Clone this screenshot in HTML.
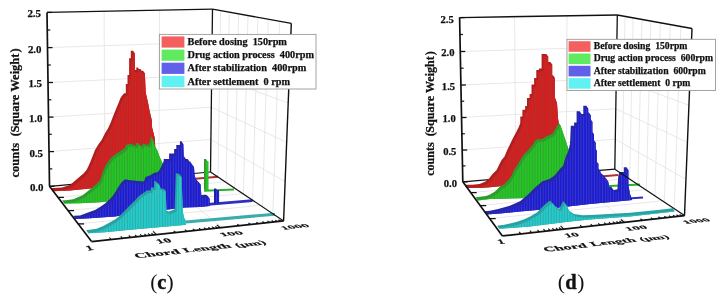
<!DOCTYPE html><html><head><meta charset="utf-8"><style>html,body{margin:0;padding:0;background:#fff;width:723px;height:301px;overflow:hidden}svg{display:block;will-change:transform;filter:blur(0.3px)}text{font-family:"Liberation Serif",serif;font-weight:bold;fill:#111;stroke:#111;stroke-width:0.25px}</style></head><body>
<svg width="723" height="301" viewBox="0 0 723 301">
<defs>
<pattern id="pr" width="2.7" height="10" patternUnits="userSpaceOnUse"><rect width="2.7" height="10" fill="#d81c1c"/><rect width="0.9" height="10" fill="#b03232"/></pattern>
<pattern id="pg" width="2.7" height="10" patternUnits="userSpaceOnUse"><rect width="2.7" height="10" fill="#20c820"/><rect width="0.9" height="10" fill="#3a9e3a"/></pattern>
<pattern id="pb" width="2.7" height="10" patternUnits="userSpaceOnUse"><rect width="2.7" height="10" fill="#1c1cd8"/><rect width="0.9" height="10" fill="#3a3ab8"/></pattern>
<pattern id="pc" width="2.7" height="10" patternUnits="userSpaceOnUse"><rect width="2.7" height="10" fill="#22cccc"/><rect width="0.9" height="10" fill="#34a8a8"/></pattern>
</defs>
<rect width="723" height="301" fill="#fff"/>
<line x1="49.0" y1="151.6" x2="210.9" y2="139.5" stroke="#e2e2e2" stroke-width="0.8" />
<line x1="210.9" y1="139.5" x2="285.1" y2="181.5" stroke="#e2e2e2" stroke-width="0.8" />
<line x1="48.5" y1="117.1" x2="211.3" y2="107.2" stroke="#e2e2e2" stroke-width="0.8" />
<line x1="211.3" y1="107.2" x2="286.7" y2="142.3" stroke="#e2e2e2" stroke-width="0.8" />
<line x1="48.0" y1="82.5" x2="211.7" y2="74.8" stroke="#e2e2e2" stroke-width="0.8" />
<line x1="211.7" y1="74.8" x2="288.2" y2="103.0" stroke="#e2e2e2" stroke-width="0.8" />
<line x1="47.5" y1="47.6" x2="212.1" y2="42.1" stroke="#e2e2e2" stroke-width="0.8" />
<line x1="212.1" y1="42.1" x2="289.7" y2="63.4" stroke="#e2e2e2" stroke-width="0.8" />
<line x1="104.1" y1="11.3" x2="105.0" y2="181.4" stroke="#e2e2e2" stroke-width="0.8" />
<line x1="105.0" y1="181.4" x2="157.8" y2="234.5" stroke="#e2e2e2" stroke-width="0.8" />
<line x1="159.5" y1="10.2" x2="159.0" y2="176.6" stroke="#e2e2e2" stroke-width="0.8" />
<line x1="159.0" y1="176.6" x2="222.2" y2="227.5" stroke="#e2e2e2" stroke-width="0.8" />
<line x1="220.6" y1="10.6" x2="218.0" y2="177.0" stroke="#e2e2e2" stroke-width="0.8" />
<line x1="229.3" y1="12.1" x2="226.1" y2="182.4" stroke="#e2e2e2" stroke-width="0.8" />
<line x1="238.6" y1="13.8" x2="234.7" y2="188.2" stroke="#e2e2e2" stroke-width="0.8" />
<line x1="248.0" y1="15.5" x2="243.4" y2="194.0" stroke="#e2e2e2" stroke-width="0.8" />
<line x1="257.9" y1="17.3" x2="252.6" y2="200.2" stroke="#e2e2e2" stroke-width="0.8" />
<line x1="268.4" y1="19.3" x2="262.4" y2="206.7" stroke="#e2e2e2" stroke-width="0.8" />
<line x1="279.6" y1="21.3" x2="272.8" y2="213.7" stroke="#e2e2e2" stroke-width="0.8" />
<line x1="57.9" y1="197.4" x2="225.1" y2="181.8" stroke="#e2e2e2" stroke-width="0.8" />
<line x1="68.0" y1="210.6" x2="242.7" y2="193.5" stroke="#e2e2e2" stroke-width="0.8" />
<line x1="78.1" y1="223.9" x2="260.2" y2="205.3" stroke="#e2e2e2" stroke-width="0.8" />
<line x1="49.5" y1="186.3" x2="210.5" y2="172.0" stroke="#111" stroke-width="1.2" />
<line x1="150.0" y1="182.7" x2="218.0" y2="176.8" stroke="#b03030" stroke-width="2" />
<line x1="204.0" y1="190.8" x2="234.0" y2="189.6" stroke="#2eae2e" stroke-width="2" />
<line x1="205.0" y1="204.6" x2="252.5" y2="200.6" stroke="#2e2ec0" stroke-width="2.8" />
<line x1="180.0" y1="222.6" x2="275.0" y2="214.2" stroke="#3aacac" stroke-width="3" />
<polygon points="204,159 206,159 207.5,161.5 207.5,191 205.5,191 204,189" fill="#2e9a2e"/>
<rect x="205.5" y="161.3" width="3" height="29.5" fill="url(#pg)"/>
<polygon points="214,188.5 216,188.5 217,190 217,204 215,204 214,202.5" fill="#2020a0"/>
<rect x="215.5" y="190" width="3.6" height="14" fill="url(#pb)"/>
<path d="M51.00,188.12 L54.10,187.99 L62.00,187.60 L69.90,185.00 L74.10,181.60 L79.90,176.60 L83.50,173.60 L86.50,170.00 L88.50,166.00 L90.50,161.50 L95.00,150.00 L98.00,145.00 L101.60,140.00 L104.90,133.50 L108.20,128.00 L110.70,122.50 L112.60,117.60 L116.00,109.00 L118.00,104.30 L120.60,97.70 L122.60,95.00 L124.10,93.20 L125.80,93.20 L125.80,84.00 L127.50,84.00 L127.50,74.90 L129.10,74.90 L129.10,58.30 L130.80,58.30 L130.80,50.80 L133.10,50.80 L133.10,70.00 L136.30,70.00 L136.30,67.40 L137.80,67.40 L137.80,69.10 L140.40,69.10 L140.40,70.70 L143.10,70.70 L143.90,89.90 L146.20,100.00 L147.70,108.00 L150.00,117.70 L150.30,125.00 L151.70,130.30 L153.00,135.60 L153.70,150.00 L153.70,179.91 L88.20,186.00 L68.20,188.00 L51.00,188.72Z M51.00,188.12 L54.10,187.99 L55.90,190.59 L52.80,190.72Z M54.10,187.99 L62.00,187.60 L63.80,190.20 L55.90,190.59Z M62.00,187.60 L69.90,185.00 L71.70,187.60 L63.80,190.20Z M69.90,185.00 L74.10,181.60 L75.90,184.20 L71.70,187.60Z M74.10,181.60 L79.90,176.60 L81.70,179.20 L75.90,184.20Z M79.90,176.60 L83.50,173.60 L85.30,176.20 L81.70,179.20Z M83.50,173.60 L86.50,170.00 L88.30,172.60 L85.30,176.20Z M86.50,170.00 L88.50,166.00 L90.30,168.60 L88.30,172.60Z M88.50,166.00 L90.50,161.50 L92.30,164.10 L90.30,168.60Z M90.50,161.50 L95.00,150.00 L96.80,152.60 L92.30,164.10Z M95.00,150.00 L98.00,145.00 L99.80,147.60 L96.80,152.60Z M98.00,145.00 L101.60,140.00 L103.40,142.60 L99.80,147.60Z M101.60,140.00 L104.90,133.50 L106.70,136.10 L103.40,142.60Z M104.90,133.50 L108.20,128.00 L110.00,130.60 L106.70,136.10Z M108.20,128.00 L110.70,122.50 L112.50,125.10 L110.00,130.60Z M110.70,122.50 L112.60,117.60 L114.40,120.20 L112.50,125.10Z M112.60,117.60 L116.00,109.00 L117.80,111.60 L114.40,120.20Z M116.00,109.00 L118.00,104.30 L119.80,106.90 L117.80,111.60Z M118.00,104.30 L120.60,97.70 L122.40,100.30 L119.80,106.90Z M120.60,97.70 L122.60,95.00 L124.40,97.60 L122.40,100.30Z M122.60,95.00 L124.10,93.20 L125.90,95.80 L124.40,97.60Z M124.10,93.20 L125.80,93.20 L127.60,95.80 L125.90,95.80Z M125.80,93.20 L125.80,84.00 L127.60,86.60 L127.60,95.80Z M125.80,84.00 L127.50,84.00 L129.30,86.60 L127.60,86.60Z M127.50,84.00 L127.50,74.90 L129.30,77.50 L129.30,86.60Z M127.50,74.90 L129.10,74.90 L130.90,77.50 L129.30,77.50Z M129.10,74.90 L129.10,58.30 L130.90,60.90 L130.90,77.50Z M129.10,58.30 L130.80,58.30 L132.60,60.90 L130.90,60.90Z M130.80,58.30 L130.80,50.80 L132.60,53.40 L132.60,60.90Z M130.80,50.80 L133.10,50.80 L134.90,53.40 L132.60,53.40Z M134.90,53.40 L134.90,72.60 L133.10,70.00 L133.10,50.80Z M133.10,70.00 L136.30,70.00 L138.10,72.60 L134.90,72.60Z M136.30,70.00 L136.30,67.40 L138.10,70.00 L138.10,72.60Z M136.30,67.40 L137.80,67.40 L139.60,70.00 L138.10,70.00Z M139.60,70.00 L139.60,71.70 L137.80,69.10 L137.80,67.40Z M137.80,69.10 L140.40,69.10 L142.20,71.70 L139.60,71.70Z M142.20,71.70 L142.20,73.30 L140.40,70.70 L140.40,69.10Z M140.40,70.70 L143.10,70.70 L144.90,73.30 L142.20,73.30Z M144.90,73.30 L145.70,92.50 L143.90,89.90 L143.10,70.70Z M145.70,92.50 L148.00,102.60 L146.20,100.00 L143.90,89.90Z M148.00,102.60 L149.50,110.60 L147.70,108.00 L146.20,100.00Z M149.50,110.60 L151.80,120.30 L150.00,117.70 L147.70,108.00Z M151.80,120.30 L152.10,127.60 L150.30,125.00 L150.00,117.70Z M152.10,127.60 L153.50,132.90 L151.70,130.30 L150.30,125.00Z M153.50,132.90 L154.80,138.20 L153.00,135.60 L151.70,130.30Z M154.80,138.20 L155.50,152.60 L153.70,150.00 L153.00,135.60Z M155.50,152.60 L155.50,182.51 L153.70,179.91 L153.70,150.00Z M155.50,182.51 L90.00,188.60 L88.20,186.00 L153.70,179.91Z M90.00,188.60 L70.00,190.60 L68.20,188.00 L88.20,186.00Z M70.00,190.60 L52.80,191.32 L51.00,188.72 L68.20,188.00Z M51.00,188.72 L51.00,188.12 L52.80,190.72 L52.80,191.32Z" fill="#b01f1f" fill-rule="nonzero"/>
<polygon points="52.8,190.7 55.9,190.6 63.8,190.2 71.7,187.6 75.9,184.2 81.7,179.2 85.3,176.2 88.3,172.6 90.3,168.6 92.3,164.1 96.8,152.6 99.8,147.6 103.4,142.6 106.7,136.1 110.0,130.6 112.5,125.1 114.4,120.2 117.8,111.6 119.8,106.9 122.4,100.3 124.4,97.6 125.9,95.8 127.6,95.8 127.6,86.6 129.3,86.6 129.3,77.5 130.9,77.5 130.9,60.9 132.6,60.9 132.6,53.4 134.9,53.4 134.9,72.6 138.1,72.6 138.1,70.0 139.6,70.0 139.6,71.7 142.2,71.7 142.2,73.3 144.9,73.3 145.7,92.5 148.0,102.6 149.5,110.6 151.8,120.3 152.1,127.6 153.5,132.9 154.8,138.2 155.5,152.6 155.5,182.5 90.0,188.6 70.0,190.6 52.8,191.3" fill="url(#pr)"/>
<path d="M62.50,200.36 L66.00,200.28 L73.30,199.20 L82.60,195.20 L89.20,189.90 L95.90,184.60 L99.80,180.50 L102.50,172.50 L105.00,166.60 L108.00,161.50 L111.60,157.30 L115.00,154.60 L118.20,152.60 L121.50,150.30 L124.80,148.00 L126.20,144.90 L129.80,143.60 L135.50,145.60 L136.50,142.90 L138.40,142.90 L140.40,146.90 L143.30,143.60 L147.50,144.90 L149.50,143.60 L150.80,137.00 L151.00,136.30 L151.70,139.60 L153.00,143.60 L155.70,148.20 L157.60,153.60 L159.60,158.20 L161.20,162.00 L163.20,175.00 L163.20,192.70 L98.20,199.70 L78.20,200.60 L62.50,200.96Z M62.50,200.36 L66.00,200.28 L67.80,202.88 L64.30,202.96Z M66.00,200.28 L73.30,199.20 L75.10,201.80 L67.80,202.88Z M73.30,199.20 L82.60,195.20 L84.40,197.80 L75.10,201.80Z M82.60,195.20 L89.20,189.90 L91.00,192.50 L84.40,197.80Z M89.20,189.90 L95.90,184.60 L97.70,187.20 L91.00,192.50Z M95.90,184.60 L99.80,180.50 L101.60,183.10 L97.70,187.20Z M99.80,180.50 L102.50,172.50 L104.30,175.10 L101.60,183.10Z M102.50,172.50 L105.00,166.60 L106.80,169.20 L104.30,175.10Z M105.00,166.60 L108.00,161.50 L109.80,164.10 L106.80,169.20Z M108.00,161.50 L111.60,157.30 L113.40,159.90 L109.80,164.10Z M111.60,157.30 L115.00,154.60 L116.80,157.20 L113.40,159.90Z M115.00,154.60 L118.20,152.60 L120.00,155.20 L116.80,157.20Z M118.20,152.60 L121.50,150.30 L123.30,152.90 L120.00,155.20Z M121.50,150.30 L124.80,148.00 L126.60,150.60 L123.30,152.90Z M124.80,148.00 L126.20,144.90 L128.00,147.50 L126.60,150.60Z M126.20,144.90 L129.80,143.60 L131.60,146.20 L128.00,147.50Z M129.80,143.60 L135.50,145.60 L137.30,148.20 L131.60,146.20Z M135.50,145.60 L136.50,142.90 L138.30,145.50 L137.30,148.20Z M136.50,142.90 L138.40,142.90 L140.20,145.50 L138.30,145.50Z M140.20,145.50 L142.20,149.50 L140.40,146.90 L138.40,142.90Z M140.40,146.90 L143.30,143.60 L145.10,146.20 L142.20,149.50Z M143.30,143.60 L147.50,144.90 L149.30,147.50 L145.10,146.20Z M147.50,144.90 L149.50,143.60 L151.30,146.20 L149.30,147.50Z M149.50,143.60 L150.80,137.00 L152.60,139.60 L151.30,146.20Z M150.80,137.00 L151.00,136.30 L152.80,138.90 L152.60,139.60Z M152.80,138.90 L153.50,142.20 L151.70,139.60 L151.00,136.30Z M153.50,142.20 L154.80,146.20 L153.00,143.60 L151.70,139.60Z M154.80,146.20 L157.50,150.80 L155.70,148.20 L153.00,143.60Z M157.50,150.80 L159.40,156.20 L157.60,153.60 L155.70,148.20Z M159.40,156.20 L161.40,160.80 L159.60,158.20 L157.60,153.60Z M161.40,160.80 L163.00,164.60 L161.20,162.00 L159.60,158.20Z M163.00,164.60 L165.00,177.60 L163.20,175.00 L161.20,162.00Z M165.00,177.60 L165.00,195.30 L163.20,192.70 L163.20,175.00Z M165.00,195.30 L100.00,202.30 L98.20,199.70 L163.20,192.70Z M100.00,202.30 L80.00,203.20 L78.20,200.60 L98.20,199.70Z M80.00,203.20 L64.30,203.56 L62.50,200.96 L78.20,200.60Z M62.50,200.96 L62.50,200.36 L64.30,202.96 L64.30,203.56Z" fill="#2c9c2c" fill-rule="nonzero"/>
<polygon points="64.3,203.0 67.8,202.9 75.1,201.8 84.4,197.8 91.0,192.5 97.7,187.2 101.6,183.1 104.3,175.1 106.8,169.2 109.8,164.1 113.4,159.9 116.8,157.2 120.0,155.2 123.3,152.9 126.6,150.6 128.0,147.5 131.6,146.2 137.3,148.2 138.3,145.5 140.2,145.5 142.2,149.5 145.1,146.2 149.3,147.5 151.3,146.2 152.6,139.6 152.8,138.9 153.5,142.2 154.8,146.2 157.5,150.8 159.4,156.2 161.4,160.8 163.0,164.6 165.0,177.6 165.0,195.3 100.0,202.3 80.0,203.2 64.3,203.6" fill="url(#pg)"/>
<path d="M73.50,215.80 L80.00,215.45 L90.00,211.70 L95.00,210.00 L100.00,207.00 L105.00,203.50 L110.00,199.00 L113.00,195.50 L116.00,191.00 L118.00,187.50 L121.00,183.00 L124.00,180.00 L126.00,179.30 L128.20,180.00 L133.20,180.40 L138.20,180.90 L144.00,181.40 L145.50,177.00 L149.90,175.40 L153.90,173.00 L157.80,172.00 L159.80,169.50 L162.30,164.50 L163.70,161.00 L163.70,159.10 L169.10,159.10 L169.10,153.60 L174.10,153.60 L174.10,149.10 L176.30,149.10 L176.30,145.00 L179.90,145.00 L179.90,141.30 L181.50,141.30 L182.00,156.60 L184.20,156.60 L184.20,159.10 L187.70,159.10 L187.70,161.60 L190.20,161.60 L190.20,163.50 L192.20,164.50 L192.70,172.00 L193.70,176.00 L196.60,180.00 L198.90,182.20 L199.60,194.10 L200.40,195.60 L203.50,194.80 L206.20,194.80 L207.80,196.00 L207.80,202.74 L207.80,203.34 L198.20,204.30 L183.20,205.00 L128.20,211.40 L113.20,214.00 L88.20,215.60 L73.50,216.40Z M73.50,215.80 L80.00,215.45 L81.80,218.05 L75.30,218.40Z M80.00,215.45 L90.00,211.70 L91.80,214.30 L81.80,218.05Z M90.00,211.70 L95.00,210.00 L96.80,212.60 L91.80,214.30Z M95.00,210.00 L100.00,207.00 L101.80,209.60 L96.80,212.60Z M100.00,207.00 L105.00,203.50 L106.80,206.10 L101.80,209.60Z M105.00,203.50 L110.00,199.00 L111.80,201.60 L106.80,206.10Z M110.00,199.00 L113.00,195.50 L114.80,198.10 L111.80,201.60Z M113.00,195.50 L116.00,191.00 L117.80,193.60 L114.80,198.10Z M116.00,191.00 L118.00,187.50 L119.80,190.10 L117.80,193.60Z M118.00,187.50 L121.00,183.00 L122.80,185.60 L119.80,190.10Z M121.00,183.00 L124.00,180.00 L125.80,182.60 L122.80,185.60Z M124.00,180.00 L126.00,179.30 L127.80,181.90 L125.80,182.60Z M126.00,179.30 L128.20,180.00 L130.00,182.60 L127.80,181.90Z M128.20,180.00 L133.20,180.40 L135.00,183.00 L130.00,182.60Z M133.20,180.40 L138.20,180.90 L140.00,183.50 L135.00,183.00Z M138.20,180.90 L144.00,181.40 L145.80,184.00 L140.00,183.50Z M144.00,181.40 L145.50,177.00 L147.30,179.60 L145.80,184.00Z M145.50,177.00 L149.90,175.40 L151.70,178.00 L147.30,179.60Z M149.90,175.40 L153.90,173.00 L155.70,175.60 L151.70,178.00Z M153.90,173.00 L157.80,172.00 L159.60,174.60 L155.70,175.60Z M157.80,172.00 L159.80,169.50 L161.60,172.10 L159.60,174.60Z M159.80,169.50 L162.30,164.50 L164.10,167.10 L161.60,172.10Z M162.30,164.50 L163.70,161.00 L165.50,163.60 L164.10,167.10Z M163.70,161.00 L163.70,159.10 L165.50,161.70 L165.50,163.60Z M163.70,159.10 L169.10,159.10 L170.90,161.70 L165.50,161.70Z M169.10,159.10 L169.10,153.60 L170.90,156.20 L170.90,161.70Z M169.10,153.60 L174.10,153.60 L175.90,156.20 L170.90,156.20Z M174.10,153.60 L174.10,149.10 L175.90,151.70 L175.90,156.20Z M174.10,149.10 L176.30,149.10 L178.10,151.70 L175.90,151.70Z M176.30,149.10 L176.30,145.00 L178.10,147.60 L178.10,151.70Z M176.30,145.00 L179.90,145.00 L181.70,147.60 L178.10,147.60Z M179.90,145.00 L179.90,141.30 L181.70,143.90 L181.70,147.60Z M179.90,141.30 L181.50,141.30 L183.30,143.90 L181.70,143.90Z M183.30,143.90 L183.80,159.20 L182.00,156.60 L181.50,141.30Z M182.00,156.60 L184.20,156.60 L186.00,159.20 L183.80,159.20Z M186.00,159.20 L186.00,161.70 L184.20,159.10 L184.20,156.60Z M184.20,159.10 L187.70,159.10 L189.50,161.70 L186.00,161.70Z M189.50,161.70 L189.50,164.20 L187.70,161.60 L187.70,159.10Z M187.70,161.60 L190.20,161.60 L192.00,164.20 L189.50,164.20Z M192.00,164.20 L192.00,166.10 L190.20,163.50 L190.20,161.60Z M190.20,163.50 L192.20,164.50 L194.00,167.10 L192.00,166.10Z M194.00,167.10 L194.50,174.60 L192.70,172.00 L192.20,164.50Z M194.50,174.60 L195.50,178.60 L193.70,176.00 L192.70,172.00Z M193.70,176.00 L196.60,180.00 L198.40,182.60 L195.50,178.60Z M196.60,180.00 L198.90,182.20 L200.70,184.80 L198.40,182.60Z M200.70,184.80 L201.40,196.70 L199.60,194.10 L198.90,182.20Z M201.40,196.70 L202.20,198.20 L200.40,195.60 L199.60,194.10Z M200.40,195.60 L203.50,194.80 L205.30,197.40 L202.20,198.20Z M203.50,194.80 L206.20,194.80 L208.00,197.40 L205.30,197.40Z M206.20,194.80 L207.80,196.00 L209.60,198.60 L208.00,197.40Z M209.60,198.60 L209.60,205.34 L207.80,202.74 L207.80,196.00Z M209.60,205.34 L209.60,205.94 L207.80,203.34 L207.80,202.74Z M209.60,205.94 L200.00,206.90 L198.20,204.30 L207.80,203.34Z M200.00,206.90 L185.00,207.60 L183.20,205.00 L198.20,204.30Z M185.00,207.60 L130.00,214.00 L128.20,211.40 L183.20,205.00Z M130.00,214.00 L115.00,216.60 L113.20,214.00 L128.20,211.40Z M115.00,216.60 L90.00,218.20 L88.20,215.60 L113.20,214.00Z M90.00,218.20 L75.30,219.00 L73.50,216.40 L88.20,215.60Z M73.50,216.40 L73.50,215.80 L75.30,218.40 L75.30,219.00Z" fill="#2626a8" fill-rule="nonzero"/>
<polygon points="75.3,218.4 81.8,218.0 91.8,214.3 96.8,212.6 101.8,209.6 106.8,206.1 111.8,201.6 114.8,198.1 117.8,193.6 119.8,190.1 122.8,185.6 125.8,182.6 127.8,181.9 130.0,182.6 135.0,183.0 140.0,183.5 145.8,184.0 147.3,179.6 151.7,178.0 155.7,175.6 159.6,174.6 161.6,172.1 164.1,167.1 165.5,163.6 165.5,161.7 170.9,161.7 170.9,156.2 175.9,156.2 175.9,151.7 178.1,151.7 178.1,147.6 181.7,147.6 181.7,143.9 183.3,143.9 183.8,159.2 186.0,159.2 186.0,161.7 189.5,161.7 189.5,164.2 192.0,164.2 192.0,166.1 194.0,167.1 194.5,174.6 195.5,178.6 198.4,182.6 200.7,184.8 201.4,196.7 202.2,198.2 205.3,197.4 208.0,197.4 209.6,198.6 209.6,205.3 209.6,205.9 200.0,206.9 185.0,207.6 130.0,214.0 115.0,216.6 90.0,218.2 75.3,219.0" fill="url(#pb)"/>
<path d="M86.50,230.08 L90.00,229.86 L96.60,228.80 L103.30,226.00 L110.00,222.30 L115.00,219.50 L120.00,215.50 L125.00,210.50 L128.00,207.30 L131.00,204.30 L135.00,200.50 L138.00,197.00 L141.00,194.50 L145.00,192.00 L146.70,190.60 L150.80,190.40 L150.80,187.50 L154.10,187.50 L154.10,181.20 L155.20,181.00 L158.20,183.30 L158.20,187.50 L160.60,187.50 L160.60,188.70 L164.00,188.70 L164.70,210.30 L168.80,211.50 L174.70,209.20 L175.80,173.10 L179.80,174.30 L181.00,209.20 L182.20,215.00 L184.20,219.00 L184.20,222.21 L182.20,222.40 L123.20,227.70 L103.20,229.60 L86.50,230.68Z M86.50,230.08 L90.00,229.86 L91.80,232.46 L88.30,232.68Z M90.00,229.86 L96.60,228.80 L98.40,231.40 L91.80,232.46Z M96.60,228.80 L103.30,226.00 L105.10,228.60 L98.40,231.40Z M103.30,226.00 L110.00,222.30 L111.80,224.90 L105.10,228.60Z M110.00,222.30 L115.00,219.50 L116.80,222.10 L111.80,224.90Z M115.00,219.50 L120.00,215.50 L121.80,218.10 L116.80,222.10Z M120.00,215.50 L125.00,210.50 L126.80,213.10 L121.80,218.10Z M125.00,210.50 L128.00,207.30 L129.80,209.90 L126.80,213.10Z M128.00,207.30 L131.00,204.30 L132.80,206.90 L129.80,209.90Z M131.00,204.30 L135.00,200.50 L136.80,203.10 L132.80,206.90Z M135.00,200.50 L138.00,197.00 L139.80,199.60 L136.80,203.10Z M138.00,197.00 L141.00,194.50 L142.80,197.10 L139.80,199.60Z M141.00,194.50 L145.00,192.00 L146.80,194.60 L142.80,197.10Z M145.00,192.00 L146.70,190.60 L148.50,193.20 L146.80,194.60Z M146.70,190.60 L150.80,190.40 L152.60,193.00 L148.50,193.20Z M150.80,190.40 L150.80,187.50 L152.60,190.10 L152.60,193.00Z M150.80,187.50 L154.10,187.50 L155.90,190.10 L152.60,190.10Z M154.10,187.50 L154.10,181.20 L155.90,183.80 L155.90,190.10Z M154.10,181.20 L155.20,181.00 L157.00,183.60 L155.90,183.80Z M155.20,181.00 L158.20,183.30 L160.00,185.90 L157.00,183.60Z M160.00,185.90 L160.00,190.10 L158.20,187.50 L158.20,183.30Z M158.20,187.50 L160.60,187.50 L162.40,190.10 L160.00,190.10Z M162.40,190.10 L162.40,191.30 L160.60,188.70 L160.60,187.50Z M160.60,188.70 L164.00,188.70 L165.80,191.30 L162.40,191.30Z M165.80,191.30 L166.50,212.90 L164.70,210.30 L164.00,188.70Z M164.70,210.30 L168.80,211.50 L170.60,214.10 L166.50,212.90Z M168.80,211.50 L174.70,209.20 L176.50,211.80 L170.60,214.10Z M174.70,209.20 L175.80,173.10 L177.60,175.70 L176.50,211.80Z M175.80,173.10 L179.80,174.30 L181.60,176.90 L177.60,175.70Z M181.60,176.90 L182.80,211.80 L181.00,209.20 L179.80,174.30Z M182.80,211.80 L184.00,217.60 L182.20,215.00 L181.00,209.20Z M184.00,217.60 L186.00,221.60 L184.20,219.00 L182.20,215.00Z M186.00,221.60 L186.00,224.81 L184.20,222.21 L184.20,219.00Z M186.00,224.81 L184.00,225.00 L182.20,222.40 L184.20,222.21Z M184.00,225.00 L125.00,230.30 L123.20,227.70 L182.20,222.40Z M125.00,230.30 L105.00,232.20 L103.20,229.60 L123.20,227.70Z M105.00,232.20 L88.30,233.28 L86.50,230.68 L103.20,229.60Z M86.50,230.68 L86.50,230.08 L88.30,232.68 L88.30,233.28Z" fill="#2aa2a2" fill-rule="nonzero"/>
<polygon points="88.3,232.7 91.8,232.5 98.4,231.4 105.1,228.6 111.8,224.9 116.8,222.1 121.8,218.1 126.8,213.1 129.8,209.9 132.8,206.9 136.8,203.1 139.8,199.6 142.8,197.1 146.8,194.6 148.5,193.2 152.6,193.0 152.6,190.1 155.9,190.1 155.9,183.8 157.0,183.6 160.0,185.9 160.0,190.1 162.4,190.1 162.4,191.3 165.8,191.3 166.5,212.9 170.6,214.1 176.5,211.8 177.6,175.7 181.6,176.9 182.8,211.8 184.0,217.6 186.0,221.6 186.0,224.8 184.0,225.0 125.0,230.3 105.0,232.2 88.3,233.3" fill="url(#pc)"/>
<line x1="47.0" y1="12.4" x2="212.5" y2="9.1" stroke="#111" stroke-width="1.4" />
<line x1="212.5" y1="9.1" x2="291.3" y2="23.4" stroke="#111" stroke-width="1.4" />
<line x1="47.0" y1="12.4" x2="49.5" y2="186.3" stroke="#111" stroke-width="1.7" />
<line x1="212.5" y1="9.1" x2="210.5" y2="172.0" stroke="#111" stroke-width="1.3" />
<line x1="291.3" y1="23.4" x2="283.6" y2="220.9" stroke="#111" stroke-width="1.4" />
<line x1="49.5" y1="186.3" x2="91.6" y2="241.6" stroke="#111" stroke-width="1.7" />
<line x1="91.6" y1="241.6" x2="283.6" y2="220.9" stroke="#111" stroke-width="1.7" />
<line x1="210.5" y1="172.0" x2="283.6" y2="220.9" stroke="#111" stroke-width="1.2" />
<line x1="111.1" y1="239.5" x2="109.4" y2="237.5" stroke="#111" stroke-width="1.1" />
<line x1="122.5" y1="238.3" x2="120.8" y2="236.3" stroke="#111" stroke-width="1.1" />
<line x1="130.6" y1="237.4" x2="128.8" y2="235.5" stroke="#111" stroke-width="1.1" />
<line x1="136.8" y1="236.7" x2="135.1" y2="234.8" stroke="#111" stroke-width="1.1" />
<line x1="141.9" y1="236.2" x2="140.2" y2="234.3" stroke="#111" stroke-width="1.1" />
<line x1="146.3" y1="235.7" x2="144.5" y2="233.8" stroke="#111" stroke-width="1.1" />
<line x1="150.0" y1="235.3" x2="148.2" y2="233.4" stroke="#111" stroke-width="1.1" />
<line x1="153.3" y1="234.9" x2="151.5" y2="233.1" stroke="#111" stroke-width="1.1" />
<line x1="156.3" y1="234.6" x2="153.1" y2="231.4" stroke="#111" stroke-width="1.1" />
<line x1="175.6" y1="232.5" x2="173.7" y2="230.8" stroke="#111" stroke-width="1.1" />
<line x1="186.8" y1="231.3" x2="184.9" y2="229.6" stroke="#111" stroke-width="1.1" />
<line x1="194.8" y1="230.5" x2="192.9" y2="228.8" stroke="#111" stroke-width="1.1" />
<line x1="201.0" y1="229.8" x2="199.1" y2="228.1" stroke="#111" stroke-width="1.1" />
<line x1="206.1" y1="229.3" x2="204.1" y2="227.6" stroke="#111" stroke-width="1.1" />
<line x1="210.4" y1="228.8" x2="208.4" y2="227.1" stroke="#111" stroke-width="1.1" />
<line x1="214.1" y1="228.4" x2="212.1" y2="226.7" stroke="#111" stroke-width="1.1" />
<line x1="217.4" y1="228.0" x2="215.4" y2="226.4" stroke="#111" stroke-width="1.1" />
<line x1="220.3" y1="227.7" x2="216.8" y2="224.9" stroke="#111" stroke-width="1.1" />
<line x1="239.4" y1="225.7" x2="237.3" y2="224.1" stroke="#111" stroke-width="1.1" />
<line x1="250.5" y1="224.5" x2="248.4" y2="222.9" stroke="#111" stroke-width="1.1" />
<line x1="258.4" y1="223.6" x2="256.3" y2="222.1" stroke="#111" stroke-width="1.1" />
<line x1="264.5" y1="223.0" x2="262.4" y2="221.5" stroke="#111" stroke-width="1.1" />
<line x1="269.6" y1="222.4" x2="267.4" y2="220.9" stroke="#111" stroke-width="1.1" />
<line x1="273.8" y1="222.0" x2="271.7" y2="220.5" stroke="#111" stroke-width="1.1" />
<line x1="277.5" y1="221.6" x2="275.3" y2="220.1" stroke="#111" stroke-width="1.1" />
<line x1="280.7" y1="221.2" x2="278.5" y2="219.8" stroke="#111" stroke-width="1.1" />
<line x1="49.5" y1="186.3" x2="54.5" y2="186.3" stroke="#111" stroke-width="1.3" />
<text x="43.5" y="191.2" font-size="10.9" text-anchor="end">0.0</text>
<line x1="49.3" y1="168.9" x2="52.3" y2="168.9" stroke="#111" stroke-width="1.2" />
<line x1="49.0" y1="151.6" x2="54.0" y2="151.6" stroke="#111" stroke-width="1.3" />
<text x="43.0" y="156.5" font-size="10.9" text-anchor="end">0.5</text>
<line x1="48.8" y1="134.3" x2="51.8" y2="134.3" stroke="#111" stroke-width="1.2" />
<line x1="48.5" y1="117.1" x2="53.5" y2="117.1" stroke="#111" stroke-width="1.3" />
<text x="42.5" y="122.0" font-size="10.9" text-anchor="end">1.0</text>
<line x1="48.3" y1="99.8" x2="51.3" y2="99.8" stroke="#111" stroke-width="1.2" />
<line x1="48.0" y1="82.5" x2="53.0" y2="82.5" stroke="#111" stroke-width="1.3" />
<text x="42.0" y="87.4" font-size="10.9" text-anchor="end">1.5</text>
<line x1="47.8" y1="65.0" x2="50.8" y2="65.0" stroke="#111" stroke-width="1.2" />
<line x1="47.5" y1="47.6" x2="52.5" y2="47.6" stroke="#111" stroke-width="1.3" />
<text x="41.5" y="52.5" font-size="10.9" text-anchor="end">2.0</text>
<line x1="47.3" y1="30.0" x2="50.3" y2="30.0" stroke="#111" stroke-width="1.2" />
<line x1="47.0" y1="12.4" x2="52.0" y2="12.4" stroke="#111" stroke-width="1.3" />
<text x="41.0" y="17.3" font-size="10.9" text-anchor="end">2.5</text>
<line x1="57.9" y1="197.4" x2="63.9" y2="197.4" stroke="#111" stroke-width="1.3" />
<line x1="68.0" y1="210.6" x2="74.0" y2="210.6" stroke="#111" stroke-width="1.3" />
<line x1="78.1" y1="223.9" x2="84.1" y2="223.9" stroke="#111" stroke-width="1.3" />
<text transform="translate(18.9,177.5) rotate(-90)" font-size="12.5">counts<tspan dx="6.5">(</tspan><tspan dx="-0.5">Square Weight</tspan><tspan dx="1">)</tspan></text>
<rect x="159.4" y="34.4" width="156.6" height="54.6" fill="#fff" stroke="#9a9a9a" stroke-width="0.9"/>
<rect x="161.6" y="36.4" width="22.8" height="11.2" fill="#f46060"/>
<text x="187.6" y="45.1" font-size="10.27" xml:space="preserve">Before dosing  150rpm</text>
<rect x="161.6" y="49.6" width="22.8" height="11.2" fill="#60ea60"/>
<text x="187.6" y="58.3" font-size="10.27" xml:space="preserve">Drug action process  400rpm</text>
<rect x="161.6" y="62.7" width="22.8" height="11.2" fill="#6060ea"/>
<text x="187.6" y="71.4" font-size="10.27" xml:space="preserve">After stabilization  400rpm</text>
<rect x="161.6" y="75.9" width="22.8" height="11.2" fill="#60f2f2"/>
<text x="187.6" y="84.6" font-size="10.27" xml:space="preserve">After settlement  0 rpm</text>
<text transform="matrix(1.250,-0.135,0.423,0.582,87.5,250.5)" font-size="11">1</text>
<text transform="matrix(1.300,-0.140,0.503,0.516,158.3,243.4)" font-size="11">10</text>
<text transform="matrix(1.330,-0.144,0.555,0.458,222.3,236.6)" font-size="11">100</text>
<text transform="matrix(1.230,-0.133,0.593,0.409,283.5,229.8)" font-size="11">1000</text>
<text transform="matrix(1.460,-0.158,0.522,0.606,136.5,258.3)" font-size="11">Chord</text>
<text transform="matrix(1.390,-0.150,0.575,0.556,185.6,252.6)" font-size="11">Length</text>
<text transform="matrix(1.310,-0.141,0.618,0.508,237.5,247.3)" font-size="11">(μm)</text>
<line x1="462.2" y1="150.0" x2="615.3" y2="139.3" stroke="#e2e2e2" stroke-width="0.8" />
<line x1="615.3" y1="139.3" x2="686.0" y2="179.4" stroke="#e2e2e2" stroke-width="0.8" />
<line x1="461.5" y1="117.5" x2="615.8" y2="108.8" stroke="#e2e2e2" stroke-width="0.8" />
<line x1="615.8" y1="108.8" x2="687.4" y2="142.3" stroke="#e2e2e2" stroke-width="0.8" />
<line x1="460.9" y1="85.0" x2="616.3" y2="78.3" stroke="#e2e2e2" stroke-width="0.8" />
<line x1="616.3" y1="78.3" x2="688.9" y2="105.3" stroke="#e2e2e2" stroke-width="0.8" />
<line x1="460.3" y1="51.5" x2="616.8" y2="46.8" stroke="#e2e2e2" stroke-width="0.8" />
<line x1="616.8" y1="46.8" x2="690.5" y2="67.1" stroke="#e2e2e2" stroke-width="0.8" />
<line x1="514.6" y1="16.7" x2="515.8" y2="177.4" stroke="#e2e2e2" stroke-width="0.8" />
<line x1="515.8" y1="177.4" x2="566.0" y2="228.8" stroke="#e2e2e2" stroke-width="0.8" />
<line x1="567.0" y1="15.8" x2="566.3" y2="173.2" stroke="#e2e2e2" stroke-width="0.8" />
<line x1="566.3" y1="173.2" x2="626.4" y2="222.1" stroke="#e2e2e2" stroke-width="0.8" />
<line x1="625.0" y1="16.4" x2="622.0" y2="174.0" stroke="#e2e2e2" stroke-width="0.8" />
<line x1="633.2" y1="17.9" x2="629.6" y2="179.1" stroke="#e2e2e2" stroke-width="0.8" />
<line x1="642.0" y1="19.5" x2="637.9" y2="184.6" stroke="#e2e2e2" stroke-width="0.8" />
<line x1="650.9" y1="21.1" x2="646.2" y2="190.1" stroke="#e2e2e2" stroke-width="0.8" />
<line x1="660.3" y1="22.8" x2="654.9" y2="195.9" stroke="#e2e2e2" stroke-width="0.8" />
<line x1="670.3" y1="24.6" x2="664.3" y2="202.1" stroke="#e2e2e2" stroke-width="0.8" />
<line x1="680.9" y1="26.5" x2="674.2" y2="208.7" stroke="#e2e2e2" stroke-width="0.8" />
<line x1="470.7" y1="192.6" x2="628.7" y2="178.5" stroke="#e2e2e2" stroke-width="0.8" />
<line x1="480.2" y1="205.6" x2="645.5" y2="189.6" stroke="#e2e2e2" stroke-width="0.8" />
<line x1="489.7" y1="218.6" x2="662.2" y2="200.8" stroke="#e2e2e2" stroke-width="0.8" />
<line x1="462.8" y1="181.8" x2="614.8" y2="169.2" stroke="#111" stroke-width="1.2" />
<line x1="560.0" y1="180.0" x2="618.0" y2="175.0" stroke="#b03030" stroke-width="2" />
<line x1="600.0" y1="186.5" x2="640.0" y2="184.5" stroke="#2eae2e" stroke-width="2" />
<line x1="620.0" y1="199.0" x2="643.0" y2="197.5" stroke="#2e2ec0" stroke-width="2.2" />
<path d="M465.00,184.80 L466.50,184.80 L472.30,184.80 L479.60,183.90 L485.50,181.40 L489.10,178.60 L492.10,174.40 L494.30,172.20 L496.60,170.00 L499.00,165.00 L501.60,160.00 L504.50,156.50 L507.00,150.50 L510.50,143.30 L513.00,138.00 L515.60,133.30 L519.00,126.60 L520.30,123.00 L520.30,116.50 L522.40,116.50 L522.40,109.80 L525.10,109.80 L525.10,105.90 L527.00,105.90 L527.00,97.90 L529.60,97.90 L529.60,93.90 L531.50,93.90 L531.50,84.60 L534.10,84.60 L534.10,77.90 L536.30,77.90 L536.30,70.00 L538.90,70.00 L538.90,68.60 L541.60,68.60 L541.60,54.00 L546.40,54.00 L546.40,62.00 L550.40,62.00 L550.40,75.30 L553.10,75.30 L553.10,95.00 L555.20,100.50 L556.30,116.50 L557.50,123.30 L558.20,135.00 L558.20,177.55 L498.20,183.60 L488.20,184.60 L478.20,185.40 L465.00,185.40Z M465.00,184.80 L466.50,184.80 L468.30,187.40 L466.80,187.40Z M466.50,184.80 L472.30,184.80 L474.10,187.40 L468.30,187.40Z M472.30,184.80 L479.60,183.90 L481.40,186.50 L474.10,187.40Z M479.60,183.90 L485.50,181.40 L487.30,184.00 L481.40,186.50Z M485.50,181.40 L489.10,178.60 L490.90,181.20 L487.30,184.00Z M489.10,178.60 L492.10,174.40 L493.90,177.00 L490.90,181.20Z M492.10,174.40 L494.30,172.20 L496.10,174.80 L493.90,177.00Z M494.30,172.20 L496.60,170.00 L498.40,172.60 L496.10,174.80Z M496.60,170.00 L499.00,165.00 L500.80,167.60 L498.40,172.60Z M499.00,165.00 L501.60,160.00 L503.40,162.60 L500.80,167.60Z M501.60,160.00 L504.50,156.50 L506.30,159.10 L503.40,162.60Z M504.50,156.50 L507.00,150.50 L508.80,153.10 L506.30,159.10Z M507.00,150.50 L510.50,143.30 L512.30,145.90 L508.80,153.10Z M510.50,143.30 L513.00,138.00 L514.80,140.60 L512.30,145.90Z M513.00,138.00 L515.60,133.30 L517.40,135.90 L514.80,140.60Z M515.60,133.30 L519.00,126.60 L520.80,129.20 L517.40,135.90Z M519.00,126.60 L520.30,123.00 L522.10,125.60 L520.80,129.20Z M520.30,123.00 L520.30,116.50 L522.10,119.10 L522.10,125.60Z M520.30,116.50 L522.40,116.50 L524.20,119.10 L522.10,119.10Z M522.40,116.50 L522.40,109.80 L524.20,112.40 L524.20,119.10Z M522.40,109.80 L525.10,109.80 L526.90,112.40 L524.20,112.40Z M525.10,109.80 L525.10,105.90 L526.90,108.50 L526.90,112.40Z M525.10,105.90 L527.00,105.90 L528.80,108.50 L526.90,108.50Z M527.00,105.90 L527.00,97.90 L528.80,100.50 L528.80,108.50Z M527.00,97.90 L529.60,97.90 L531.40,100.50 L528.80,100.50Z M529.60,97.90 L529.60,93.90 L531.40,96.50 L531.40,100.50Z M529.60,93.90 L531.50,93.90 L533.30,96.50 L531.40,96.50Z M531.50,93.90 L531.50,84.60 L533.30,87.20 L533.30,96.50Z M531.50,84.60 L534.10,84.60 L535.90,87.20 L533.30,87.20Z M534.10,84.60 L534.10,77.90 L535.90,80.50 L535.90,87.20Z M534.10,77.90 L536.30,77.90 L538.10,80.50 L535.90,80.50Z M536.30,77.90 L536.30,70.00 L538.10,72.60 L538.10,80.50Z M536.30,70.00 L538.90,70.00 L540.70,72.60 L538.10,72.60Z M538.90,70.00 L538.90,68.60 L540.70,71.20 L540.70,72.60Z M538.90,68.60 L541.60,68.60 L543.40,71.20 L540.70,71.20Z M541.60,68.60 L541.60,54.00 L543.40,56.60 L543.40,71.20Z M541.60,54.00 L546.40,54.00 L548.20,56.60 L543.40,56.60Z M548.20,56.60 L548.20,64.60 L546.40,62.00 L546.40,54.00Z M546.40,62.00 L550.40,62.00 L552.20,64.60 L548.20,64.60Z M552.20,64.60 L552.20,77.90 L550.40,75.30 L550.40,62.00Z M550.40,75.30 L553.10,75.30 L554.90,77.90 L552.20,77.90Z M554.90,77.90 L554.90,97.60 L553.10,95.00 L553.10,75.30Z M554.90,97.60 L557.00,103.10 L555.20,100.50 L553.10,95.00Z M557.00,103.10 L558.10,119.10 L556.30,116.50 L555.20,100.50Z M558.10,119.10 L559.30,125.90 L557.50,123.30 L556.30,116.50Z M559.30,125.90 L560.00,137.60 L558.20,135.00 L557.50,123.30Z M560.00,137.60 L560.00,180.15 L558.20,177.55 L558.20,135.00Z M560.00,180.15 L500.00,186.20 L498.20,183.60 L558.20,177.55Z M500.00,186.20 L490.00,187.20 L488.20,184.60 L498.20,183.60Z M490.00,187.20 L480.00,188.00 L478.20,185.40 L488.20,184.60Z M480.00,188.00 L466.80,188.00 L465.00,185.40 L478.20,185.40Z M465.00,185.40 L465.00,184.80 L466.80,187.40 L466.80,188.00Z" fill="#b01f1f" fill-rule="nonzero"/>
<polygon points="466.8,187.4 468.3,187.4 474.1,187.4 481.4,186.5 487.3,184.0 490.9,181.2 493.9,177.0 496.1,174.8 498.4,172.6 500.8,167.6 503.4,162.6 506.3,159.1 508.8,153.1 512.3,145.9 514.8,140.6 517.4,135.9 520.8,129.2 522.1,125.6 522.1,119.1 524.2,119.1 524.2,112.4 526.9,112.4 526.9,108.5 528.8,108.5 528.8,100.5 531.4,100.5 531.4,96.5 533.3,96.5 533.3,87.2 535.9,87.2 535.9,80.5 538.1,80.5 538.1,72.6 540.7,72.6 540.7,71.2 543.4,71.2 543.4,56.6 548.2,56.6 548.2,64.6 552.2,64.6 552.2,77.9 554.9,77.9 554.9,97.6 557.0,103.1 558.1,119.1 559.3,125.9 560.0,137.6 560.0,180.1 500.0,186.2 490.0,187.2 480.0,188.0 466.8,188.0" fill="url(#pr)"/>
<path d="M476.00,197.37 L480.00,196.85 L486.00,196.08 L490.00,194.50 L495.00,191.60 L500.00,186.60 L504.10,184.30 L508.30,180.00 L511.60,175.50 L514.00,170.00 L518.30,163.20 L523.30,154.90 L528.30,149.90 L533.20,144.10 L535.70,140.00 L538.20,139.10 L540.50,139.50 L543.20,138.30 L546.00,136.50 L549.00,135.30 L552.00,134.00 L555.00,129.50 L556.90,125.90 L558.90,122.90 L559.10,123.90 L561.10,129.80 L563.10,135.80 L565.10,141.80 L567.10,147.80 L567.70,160.00 L567.70,191.02 L538.20,194.60 L518.20,195.60 L488.20,196.40 L476.00,197.97Z M476.00,197.37 L480.00,196.85 L481.80,199.45 L477.80,199.97Z M480.00,196.85 L486.00,196.08 L487.80,198.68 L481.80,199.45Z M486.00,196.08 L490.00,194.50 L491.80,197.10 L487.80,198.68Z M490.00,194.50 L495.00,191.60 L496.80,194.20 L491.80,197.10Z M495.00,191.60 L500.00,186.60 L501.80,189.20 L496.80,194.20Z M500.00,186.60 L504.10,184.30 L505.90,186.90 L501.80,189.20Z M504.10,184.30 L508.30,180.00 L510.10,182.60 L505.90,186.90Z M508.30,180.00 L511.60,175.50 L513.40,178.10 L510.10,182.60Z M511.60,175.50 L514.00,170.00 L515.80,172.60 L513.40,178.10Z M514.00,170.00 L518.30,163.20 L520.10,165.80 L515.80,172.60Z M518.30,163.20 L523.30,154.90 L525.10,157.50 L520.10,165.80Z M523.30,154.90 L528.30,149.90 L530.10,152.50 L525.10,157.50Z M528.30,149.90 L533.20,144.10 L535.00,146.70 L530.10,152.50Z M533.20,144.10 L535.70,140.00 L537.50,142.60 L535.00,146.70Z M535.70,140.00 L538.20,139.10 L540.00,141.70 L537.50,142.60Z M538.20,139.10 L540.50,139.50 L542.30,142.10 L540.00,141.70Z M540.50,139.50 L543.20,138.30 L545.00,140.90 L542.30,142.10Z M543.20,138.30 L546.00,136.50 L547.80,139.10 L545.00,140.90Z M546.00,136.50 L549.00,135.30 L550.80,137.90 L547.80,139.10Z M549.00,135.30 L552.00,134.00 L553.80,136.60 L550.80,137.90Z M552.00,134.00 L555.00,129.50 L556.80,132.10 L553.80,136.60Z M555.00,129.50 L556.90,125.90 L558.70,128.50 L556.80,132.10Z M556.90,125.90 L558.90,122.90 L560.70,125.50 L558.70,128.50Z M560.70,125.50 L560.90,126.50 L559.10,123.90 L558.90,122.90Z M560.90,126.50 L562.90,132.40 L561.10,129.80 L559.10,123.90Z M562.90,132.40 L564.90,138.40 L563.10,135.80 L561.10,129.80Z M564.90,138.40 L566.90,144.40 L565.10,141.80 L563.10,135.80Z M566.90,144.40 L568.90,150.40 L567.10,147.80 L565.10,141.80Z M568.90,150.40 L569.50,162.60 L567.70,160.00 L567.10,147.80Z M569.50,162.60 L569.50,193.62 L567.70,191.02 L567.70,160.00Z M569.50,193.62 L540.00,197.20 L538.20,194.60 L567.70,191.02Z M540.00,197.20 L520.00,198.20 L518.20,195.60 L538.20,194.60Z M520.00,198.20 L490.00,199.00 L488.20,196.40 L518.20,195.60Z M490.00,199.00 L477.80,200.57 L476.00,197.97 L488.20,196.40Z M476.00,197.97 L476.00,197.37 L477.80,199.97 L477.80,200.57Z" fill="#2c9c2c" fill-rule="nonzero"/>
<polygon points="477.8,200.0 481.8,199.5 487.8,198.7 491.8,197.1 496.8,194.2 501.8,189.2 505.9,186.9 510.1,182.6 513.4,178.1 515.8,172.6 520.1,165.8 525.1,157.5 530.1,152.5 535.0,146.7 537.5,142.6 540.0,141.7 542.3,142.1 545.0,140.9 547.8,139.1 550.8,137.9 553.8,136.6 556.8,132.1 558.7,128.5 560.7,125.5 560.9,126.5 562.9,132.4 564.9,138.4 566.9,144.4 568.9,150.4 569.5,162.6 569.5,193.6 540.0,197.2 520.0,198.2 490.0,199.0 477.8,200.6" fill="url(#pg)"/>
<path d="M484.60,211.18 L490.00,210.83 L498.20,209.00 L509.80,205.70 L520.00,201.30 L527.50,195.00 L535.00,187.50 L542.50,181.30 L550.00,178.80 L555.00,175.00 L560.00,168.80 L563.00,166.00 L566.00,156.00 L568.00,152.00 L570.00,144.00 L570.80,125.70 L574.10,125.70 L574.10,122.40 L576.60,122.40 L576.60,111.30 L579.80,111.30 L579.80,114.00 L583.30,114.00 L583.30,105.80 L586.40,105.80 L586.40,112.50 L588.90,112.50 L588.90,119.10 L590.60,119.10 L590.60,131.60 L592.20,131.60 L592.20,139.90 L593.90,139.90 L593.90,147.90 L595.00,147.90 L595.00,161.20 L596.60,161.20 L596.60,167.80 L598.20,168.00 L599.50,172.60 L601.80,173.70 L604.20,176.00 L606.50,179.20 L607.40,184.70 L608.30,187.40 L611.10,186.50 L612.90,190.20 L617.40,189.20 L618.30,175.50 L619.30,171.90 L623.80,171.90 L623.80,167.30 L626.60,167.30 L626.60,182.90 L628.40,192.00 L630.20,196.70 L630.20,197.30 L628.20,197.60 L588.20,201.30 L538.20,207.10 L518.20,208.90 L498.20,210.90 L484.60,211.78Z M484.60,211.18 L490.00,210.83 L491.80,213.43 L486.40,213.78Z M490.00,210.83 L498.20,209.00 L500.00,211.60 L491.80,213.43Z M498.20,209.00 L509.80,205.70 L511.60,208.30 L500.00,211.60Z M509.80,205.70 L520.00,201.30 L521.80,203.90 L511.60,208.30Z M520.00,201.30 L527.50,195.00 L529.30,197.60 L521.80,203.90Z M527.50,195.00 L535.00,187.50 L536.80,190.10 L529.30,197.60Z M535.00,187.50 L542.50,181.30 L544.30,183.90 L536.80,190.10Z M542.50,181.30 L550.00,178.80 L551.80,181.40 L544.30,183.90Z M550.00,178.80 L555.00,175.00 L556.80,177.60 L551.80,181.40Z M555.00,175.00 L560.00,168.80 L561.80,171.40 L556.80,177.60Z M560.00,168.80 L563.00,166.00 L564.80,168.60 L561.80,171.40Z M563.00,166.00 L566.00,156.00 L567.80,158.60 L564.80,168.60Z M566.00,156.00 L568.00,152.00 L569.80,154.60 L567.80,158.60Z M568.00,152.00 L570.00,144.00 L571.80,146.60 L569.80,154.60Z M570.00,144.00 L570.80,125.70 L572.60,128.30 L571.80,146.60Z M570.80,125.70 L574.10,125.70 L575.90,128.30 L572.60,128.30Z M574.10,125.70 L574.10,122.40 L575.90,125.00 L575.90,128.30Z M574.10,122.40 L576.60,122.40 L578.40,125.00 L575.90,125.00Z M576.60,122.40 L576.60,111.30 L578.40,113.90 L578.40,125.00Z M576.60,111.30 L579.80,111.30 L581.60,113.90 L578.40,113.90Z M581.60,113.90 L581.60,116.60 L579.80,114.00 L579.80,111.30Z M579.80,114.00 L583.30,114.00 L585.10,116.60 L581.60,116.60Z M583.30,114.00 L583.30,105.80 L585.10,108.40 L585.10,116.60Z M583.30,105.80 L586.40,105.80 L588.20,108.40 L585.10,108.40Z M588.20,108.40 L588.20,115.10 L586.40,112.50 L586.40,105.80Z M586.40,112.50 L588.90,112.50 L590.70,115.10 L588.20,115.10Z M590.70,115.10 L590.70,121.70 L588.90,119.10 L588.90,112.50Z M588.90,119.10 L590.60,119.10 L592.40,121.70 L590.70,121.70Z M592.40,121.70 L592.40,134.20 L590.60,131.60 L590.60,119.10Z M590.60,131.60 L592.20,131.60 L594.00,134.20 L592.40,134.20Z M594.00,134.20 L594.00,142.50 L592.20,139.90 L592.20,131.60Z M592.20,139.90 L593.90,139.90 L595.70,142.50 L594.00,142.50Z M595.70,142.50 L595.70,150.50 L593.90,147.90 L593.90,139.90Z M593.90,147.90 L595.00,147.90 L596.80,150.50 L595.70,150.50Z M596.80,150.50 L596.80,163.80 L595.00,161.20 L595.00,147.90Z M595.00,161.20 L596.60,161.20 L598.40,163.80 L596.80,163.80Z M598.40,163.80 L598.40,170.40 L596.60,167.80 L596.60,161.20Z M596.60,167.80 L598.20,168.00 L600.00,170.60 L598.40,170.40Z M600.00,170.60 L601.30,175.20 L599.50,172.60 L598.20,168.00Z M599.50,172.60 L601.80,173.70 L603.60,176.30 L601.30,175.20Z M601.80,173.70 L604.20,176.00 L606.00,178.60 L603.60,176.30Z M604.20,176.00 L606.50,179.20 L608.30,181.80 L606.00,178.60Z M608.30,181.80 L609.20,187.30 L607.40,184.70 L606.50,179.20Z M609.20,187.30 L610.10,190.00 L608.30,187.40 L607.40,184.70Z M608.30,187.40 L611.10,186.50 L612.90,189.10 L610.10,190.00Z M612.90,189.10 L614.70,192.80 L612.90,190.20 L611.10,186.50Z M612.90,190.20 L617.40,189.20 L619.20,191.80 L614.70,192.80Z M617.40,189.20 L618.30,175.50 L620.10,178.10 L619.20,191.80Z M618.30,175.50 L619.30,171.90 L621.10,174.50 L620.10,178.10Z M619.30,171.90 L623.80,171.90 L625.60,174.50 L621.10,174.50Z M623.80,171.90 L623.80,167.30 L625.60,169.90 L625.60,174.50Z M623.80,167.30 L626.60,167.30 L628.40,169.90 L625.60,169.90Z M628.40,169.90 L628.40,185.50 L626.60,182.90 L626.60,167.30Z M628.40,185.50 L630.20,194.60 L628.40,192.00 L626.60,182.90Z M630.20,194.60 L632.00,199.30 L630.20,196.70 L628.40,192.00Z M632.00,199.30 L632.00,199.90 L630.20,197.30 L630.20,196.70Z M632.00,199.90 L630.00,200.20 L628.20,197.60 L630.20,197.30Z M630.00,200.20 L590.00,203.90 L588.20,201.30 L628.20,197.60Z M590.00,203.90 L540.00,209.70 L538.20,207.10 L588.20,201.30Z M540.00,209.70 L520.00,211.50 L518.20,208.90 L538.20,207.10Z M520.00,211.50 L500.00,213.50 L498.20,210.90 L518.20,208.90Z M500.00,213.50 L486.40,214.38 L484.60,211.78 L498.20,210.90Z M484.60,211.78 L484.60,211.18 L486.40,213.78 L486.40,214.38Z" fill="#2626a8" fill-rule="nonzero"/>
<polygon points="486.4,213.8 491.8,213.4 500.0,211.6 511.6,208.3 521.8,203.9 529.3,197.6 536.8,190.1 544.3,183.9 551.8,181.4 556.8,177.6 561.8,171.4 564.8,168.6 567.8,158.6 569.8,154.6 571.8,146.6 572.6,128.3 575.9,128.3 575.9,125.0 578.4,125.0 578.4,113.9 581.6,113.9 581.6,116.6 585.1,116.6 585.1,108.4 588.2,108.4 588.2,115.1 590.7,115.1 590.7,121.7 592.4,121.7 592.4,134.2 594.0,134.2 594.0,142.5 595.7,142.5 595.7,150.5 596.8,150.5 596.8,163.8 598.4,163.8 598.4,170.4 600.0,170.6 601.3,175.2 603.6,176.3 606.0,178.6 608.3,181.8 609.2,187.3 610.1,190.0 612.9,189.1 614.7,192.8 619.2,191.8 620.1,178.1 621.1,174.5 625.6,174.5 625.6,169.9 628.4,169.9 628.4,185.5 630.2,194.6 632.0,199.3 632.0,199.9 630.0,200.2 590.0,203.9 540.0,209.7 520.0,211.5 500.0,213.5 486.4,214.4" fill="url(#pb)"/>
<path d="M497.50,225.57 L503.00,225.00 L510.00,223.60 L517.00,221.80 L524.90,219.10 L531.00,216.00 L536.90,212.40 L540.50,208.80 L544.30,205.00 L547.50,202.30 L550.30,200.50 L550.70,201.50 L553.00,203.50 L555.20,206.20 L559.30,208.70 L561.00,205.00 L563.00,201.20 L564.20,202.00 L566.40,206.40 L568.70,210.50 L573.90,213.90 L582.90,215.20 L590.00,215.00 L600.00,214.50 L630.00,212.70 L660.00,209.76 L672.70,208.31 L672.70,208.91 L628.20,214.00 L588.20,217.00 L568.20,219.00 L528.20,223.90 L497.50,226.17Z M497.50,225.57 L503.00,225.00 L504.80,227.60 L499.30,228.17Z M503.00,225.00 L510.00,223.60 L511.80,226.20 L504.80,227.60Z M510.00,223.60 L517.00,221.80 L518.80,224.40 L511.80,226.20Z M517.00,221.80 L524.90,219.10 L526.70,221.70 L518.80,224.40Z M524.90,219.10 L531.00,216.00 L532.80,218.60 L526.70,221.70Z M531.00,216.00 L536.90,212.40 L538.70,215.00 L532.80,218.60Z M536.90,212.40 L540.50,208.80 L542.30,211.40 L538.70,215.00Z M540.50,208.80 L544.30,205.00 L546.10,207.60 L542.30,211.40Z M544.30,205.00 L547.50,202.30 L549.30,204.90 L546.10,207.60Z M547.50,202.30 L550.30,200.50 L552.10,203.10 L549.30,204.90Z M552.10,203.10 L552.50,204.10 L550.70,201.50 L550.30,200.50Z M550.70,201.50 L553.00,203.50 L554.80,206.10 L552.50,204.10Z M553.00,203.50 L555.20,206.20 L557.00,208.80 L554.80,206.10Z M555.20,206.20 L559.30,208.70 L561.10,211.30 L557.00,208.80Z M559.30,208.70 L561.00,205.00 L562.80,207.60 L561.10,211.30Z M561.00,205.00 L563.00,201.20 L564.80,203.80 L562.80,207.60Z M563.00,201.20 L564.20,202.00 L566.00,204.60 L564.80,203.80Z M566.00,204.60 L568.20,209.00 L566.40,206.40 L564.20,202.00Z M568.20,209.00 L570.50,213.10 L568.70,210.50 L566.40,206.40Z M568.70,210.50 L573.90,213.90 L575.70,216.50 L570.50,213.10Z M573.90,213.90 L582.90,215.20 L584.70,217.80 L575.70,216.50Z M582.90,215.20 L590.00,215.00 L591.80,217.60 L584.70,217.80Z M590.00,215.00 L600.00,214.50 L601.80,217.10 L591.80,217.60Z M600.00,214.50 L630.00,212.70 L631.80,215.30 L601.80,217.10Z M630.00,212.70 L660.00,209.76 L661.80,212.36 L631.80,215.30Z M660.00,209.76 L672.70,208.31 L674.50,210.91 L661.80,212.36Z M674.50,210.91 L674.50,211.51 L672.70,208.91 L672.70,208.31Z M674.50,211.51 L630.00,216.60 L628.20,214.00 L672.70,208.91Z M630.00,216.60 L590.00,219.60 L588.20,217.00 L628.20,214.00Z M590.00,219.60 L570.00,221.60 L568.20,219.00 L588.20,217.00Z M570.00,221.60 L530.00,226.50 L528.20,223.90 L568.20,219.00Z M530.00,226.50 L499.30,228.77 L497.50,226.17 L528.20,223.90Z M497.50,226.17 L497.50,225.57 L499.30,228.17 L499.30,228.77Z" fill="#2aa2a2" fill-rule="nonzero"/>
<polygon points="499.3,228.2 504.8,227.6 511.8,226.2 518.8,224.4 526.7,221.7 532.8,218.6 538.7,215.0 542.3,211.4 546.1,207.6 549.3,204.9 552.1,203.1 552.5,204.1 554.8,206.1 557.0,208.8 561.1,211.3 562.8,207.6 564.8,203.8 566.0,204.6 568.2,209.0 570.5,213.1 575.7,216.5 584.7,217.8 591.8,217.6 601.8,217.1 631.8,215.3 661.8,212.4 674.5,210.9 674.5,211.5 630.0,216.6 590.0,219.6 570.0,221.6 530.0,226.5 499.3,228.8" fill="url(#pc)"/>
<line x1="459.6" y1="17.6" x2="617.3" y2="15.0" stroke="#111" stroke-width="1.4" />
<line x1="617.3" y1="15.0" x2="692.0" y2="28.5" stroke="#111" stroke-width="1.4" />
<line x1="459.6" y1="17.6" x2="462.8" y2="181.8" stroke="#111" stroke-width="1.7" />
<line x1="617.3" y1="15.0" x2="614.8" y2="169.2" stroke="#111" stroke-width="1.3" />
<line x1="692.0" y1="28.5" x2="684.5" y2="215.6" stroke="#111" stroke-width="1.4" />
<line x1="462.8" y1="181.8" x2="502.4" y2="235.9" stroke="#111" stroke-width="1.7" />
<line x1="502.4" y1="235.9" x2="684.5" y2="215.6" stroke="#111" stroke-width="1.7" />
<line x1="614.8" y1="169.2" x2="684.5" y2="215.6" stroke="#111" stroke-width="1.2" />
<line x1="520.9" y1="233.8" x2="519.2" y2="231.8" stroke="#111" stroke-width="1.1" />
<line x1="531.6" y1="232.6" x2="530.0" y2="230.7" stroke="#111" stroke-width="1.1" />
<line x1="539.3" y1="231.8" x2="537.6" y2="229.8" stroke="#111" stroke-width="1.1" />
<line x1="545.2" y1="231.1" x2="543.5" y2="229.2" stroke="#111" stroke-width="1.1" />
<line x1="550.1" y1="230.6" x2="548.3" y2="228.7" stroke="#111" stroke-width="1.1" />
<line x1="554.2" y1="230.1" x2="552.4" y2="228.2" stroke="#111" stroke-width="1.1" />
<line x1="557.8" y1="229.7" x2="556.0" y2="227.8" stroke="#111" stroke-width="1.1" />
<line x1="560.9" y1="229.4" x2="559.1" y2="227.5" stroke="#111" stroke-width="1.1" />
<line x1="563.7" y1="229.1" x2="560.6" y2="225.8" stroke="#111" stroke-width="1.1" />
<line x1="581.9" y1="227.0" x2="580.1" y2="225.2" stroke="#111" stroke-width="1.1" />
<line x1="592.6" y1="225.8" x2="590.7" y2="224.1" stroke="#111" stroke-width="1.1" />
<line x1="600.2" y1="225.0" x2="598.2" y2="223.3" stroke="#111" stroke-width="1.1" />
<line x1="606.1" y1="224.3" x2="604.1" y2="222.6" stroke="#111" stroke-width="1.1" />
<line x1="610.9" y1="223.8" x2="608.9" y2="222.1" stroke="#111" stroke-width="1.1" />
<line x1="614.9" y1="223.4" x2="612.9" y2="221.7" stroke="#111" stroke-width="1.1" />
<line x1="618.4" y1="223.0" x2="616.4" y2="221.3" stroke="#111" stroke-width="1.1" />
<line x1="621.5" y1="222.6" x2="619.5" y2="221.0" stroke="#111" stroke-width="1.1" />
<line x1="624.3" y1="222.3" x2="620.8" y2="219.5" stroke="#111" stroke-width="1.1" />
<line x1="642.4" y1="220.3" x2="640.4" y2="218.7" stroke="#111" stroke-width="1.1" />
<line x1="653.0" y1="219.1" x2="650.9" y2="217.6" stroke="#111" stroke-width="1.1" />
<line x1="660.5" y1="218.3" x2="658.4" y2="216.8" stroke="#111" stroke-width="1.1" />
<line x1="666.4" y1="217.6" x2="664.3" y2="216.1" stroke="#111" stroke-width="1.1" />
<line x1="671.1" y1="217.1" x2="669.0" y2="215.6" stroke="#111" stroke-width="1.1" />
<line x1="675.2" y1="216.6" x2="673.0" y2="215.2" stroke="#111" stroke-width="1.1" />
<line x1="678.7" y1="216.3" x2="676.5" y2="214.8" stroke="#111" stroke-width="1.1" />
<line x1="681.7" y1="215.9" x2="679.6" y2="214.5" stroke="#111" stroke-width="1.1" />
<line x1="462.8" y1="181.8" x2="467.8" y2="181.8" stroke="#111" stroke-width="1.3" />
<text x="457.0" y="186.7" font-size="10.6" text-anchor="end">0.0</text>
<line x1="462.5" y1="165.9" x2="465.5" y2="165.9" stroke="#111" stroke-width="1.2" />
<line x1="462.2" y1="150.0" x2="467.2" y2="150.0" stroke="#111" stroke-width="1.3" />
<text x="456.4" y="154.9" font-size="10.6" text-anchor="end">0.5</text>
<line x1="461.9" y1="133.8" x2="464.9" y2="133.8" stroke="#111" stroke-width="1.2" />
<line x1="461.5" y1="117.5" x2="466.5" y2="117.5" stroke="#111" stroke-width="1.3" />
<text x="455.7" y="122.4" font-size="10.6" text-anchor="end">1.0</text>
<line x1="461.2" y1="101.2" x2="464.2" y2="101.2" stroke="#111" stroke-width="1.2" />
<line x1="460.9" y1="85.0" x2="465.9" y2="85.0" stroke="#111" stroke-width="1.3" />
<text x="455.1" y="89.9" font-size="10.6" text-anchor="end">1.5</text>
<line x1="460.6" y1="68.2" x2="463.6" y2="68.2" stroke="#111" stroke-width="1.2" />
<line x1="460.3" y1="51.5" x2="465.3" y2="51.5" stroke="#111" stroke-width="1.3" />
<text x="454.5" y="56.4" font-size="10.6" text-anchor="end">2.0</text>
<line x1="459.9" y1="34.5" x2="462.9" y2="34.5" stroke="#111" stroke-width="1.2" />
<line x1="459.6" y1="17.6" x2="464.6" y2="17.6" stroke="#111" stroke-width="1.3" />
<text x="453.8" y="22.5" font-size="10.6" text-anchor="end">2.5</text>
<line x1="470.7" y1="192.6" x2="476.7" y2="192.6" stroke="#111" stroke-width="1.3" />
<line x1="480.2" y1="205.6" x2="486.2" y2="205.6" stroke="#111" stroke-width="1.3" />
<line x1="489.7" y1="218.6" x2="495.7" y2="218.6" stroke="#111" stroke-width="1.3" />
<text transform="translate(434.3,175.8) rotate(-90)" font-size="12.1">counts<tspan dx="6">(</tspan><tspan dx="-0.5">Square Weight</tspan><tspan dx="1">)</tspan></text>
<rect x="567" y="39.3" width="148.5" height="51.2" fill="#fff" stroke="#9a9a9a" stroke-width="0.9"/>
<rect x="568.6" y="41.2" width="21.9" height="10.6" fill="#f46060"/>
<text x="593.7" y="49.1" font-size="9.7" xml:space="preserve">Before dosing  150rpm</text>
<rect x="568.6" y="53.5" width="21.9" height="10.6" fill="#60ea60"/>
<text x="593.7" y="61.4" font-size="9.7" xml:space="preserve">Drug action process  600rpm</text>
<rect x="568.6" y="65.8" width="21.9" height="10.6" fill="#6060ea"/>
<text x="593.7" y="73.7" font-size="9.7" xml:space="preserve">After stabilization  600rpm</text>
<rect x="568.6" y="78.1" width="21.9" height="10.6" fill="#60f2f2"/>
<text x="593.7" y="86.0" font-size="9.7" xml:space="preserve">After settlement  0 rpm</text>
<text transform="matrix(1.250,-0.131,0.413,0.590,499.0,244.0)" font-size="10.5">1</text>
<text transform="matrix(1.300,-0.137,0.498,0.520,566.5,237.5)" font-size="10.5">10</text>
<text transform="matrix(1.330,-0.140,0.555,0.459,627.5,230.8)" font-size="10.5">100</text>
<text transform="matrix(1.230,-0.129,0.594,0.407,685.5,223.8)" font-size="10.5">1000</text>
<text transform="matrix(1.460,-0.153,0.514,0.613,545.5,251.8)" font-size="10.5">Chord</text>
<text transform="matrix(1.390,-0.146,0.571,0.560,592.5,246.3)" font-size="10.5">Length</text>
<text transform="matrix(1.310,-0.138,0.618,0.509,642.0,241.2)" font-size="10.5">(μm)</text>
<text x="150.2" y="289" font-size="21.5" style="font-weight:normal;stroke:none">(<tspan style="font-weight:bold;stroke:#111;stroke-width:0.4px" font-size="20.5">c</tspan>)</text>
<text x="557.8" y="288.5" font-size="21.5" style="font-weight:normal;stroke:none">(<tspan style="font-weight:bold;stroke:#111;stroke-width:0.4px" font-size="20.5" dx="0.3">d</tspan><tspan dx="0.6">)</tspan></text>
</svg></body></html>
